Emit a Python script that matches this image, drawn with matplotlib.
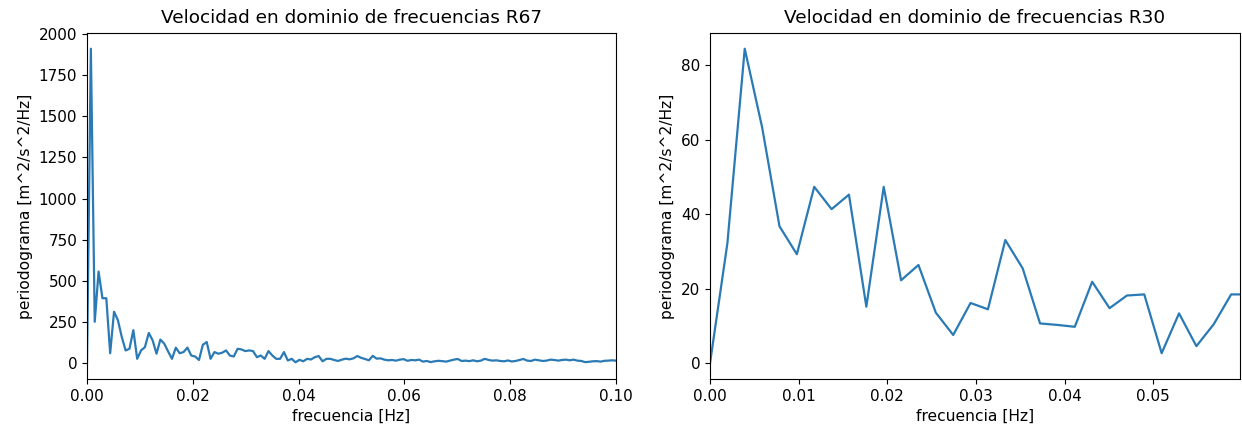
import numpy as np
import matplotlib
matplotlib.use("Agg")
import matplotlib.pyplot as plt

# ---- data -----------------------------------------------------------------
DF_R67 = 0.00073      # frequency step of the R67 periodogram [Hz]
DF_R30 = 0.00196      # frequency step of the R30 periodogram [Hz]

pxx_r67 = [
    0, 1910, 252, 557, 395, 395, 61, 313, 262, 160,
    78, 88, 201, 27, 78, 98, 184, 139, 58, 144,
    119, 72, 27, 95, 61, 68, 95, 47, 41, 20,
    112, 129, 27, 68, 58, 64, 78, 47, 41, 88,
    84, 74, 78, 74, 37, 47, 27, 74, 47, 27,
    27, 68, 17, 27, 6, 21, 12, 27, 23, 37,
    44, 12, 27, 27, 20, 14, 22, 28, 24, 30,
    44, 33, 26, 18, 45, 28, 30, 22, 18, 20,
    16, 22, 25, 15, 20, 18, 22, 10, 14, 7,
    12, 15, 13, 10, 16, 22, 26, 14, 16, 13,
    18, 12, 16, 27, 20, 16, 18, 14, 12, 17,
    11, 14, 20, 26, 16, 14, 22, 18, 14, 16,
    22, 20, 16, 20, 22, 18, 22, 16, 14, 7,
    9, 12, 13, 10, 15, 16, 18, 16, 18,
]

pxx_r30 = [
    0, 32.2, 84.5, 63.4, 36.8, 29.3, 47.4, 41.4, 45.3, 15.2,
    47.4, 22.3, 26.4, 13.6, 7.6, 16.2, 14.5, 33.1, 25.5, 10.7,
    10.3, 9.8, 21.9, 14.8, 18.2, 18.5, 2.7, 13.4, 4.6, 10.5,
    18.5, 18.5,
]

f_r67 = np.arange(len(pxx_r67)) * DF_R67
f_r30 = np.arange(len(pxx_r30)) * DF_R30

W, H = 1242, 437
fig = plt.figure(figsize=(W/100, H/100), dpi=100)

def px_axes(x0, x1, y0, y1):
    # axes box given in pixel coords of the target image (y from top)
    return fig.add_axes([x0/W, 1 - y1/H, (x1 - x0)/W, (y1 - y0)/H])

ax1 = px_axes(87, 616, 33, 379)
ax2 = px_axes(710, 1240, 33, 379)

ax1.plot(f_r67, pxx_r67, color="#2a7ab5", lw=1.6)
ax1.set_xlim(0, 0.1)
ax1.set_title("Velocidad en dominio de frecuencias R67", fontsize=13.3, pad=7)

ax2.plot(f_r30, pxx_r30, color="#2a7ab5", lw=1.6)
ax2.set_xlim(0, 0.0598)
ax2.set_title("Velocidad en dominio de frecuencias R30", fontsize=13.3, pad=7)

for ax in (ax1, ax2):
    ax.set_xlabel("frecuencia [Hz]", fontsize=11.2)
    ax.set_ylabel("periodograma [m^2/s^2/Hz]", fontsize=11.2)
    ax.tick_params(labelsize=11)

fig.savefig("out.png", dpi=100)
